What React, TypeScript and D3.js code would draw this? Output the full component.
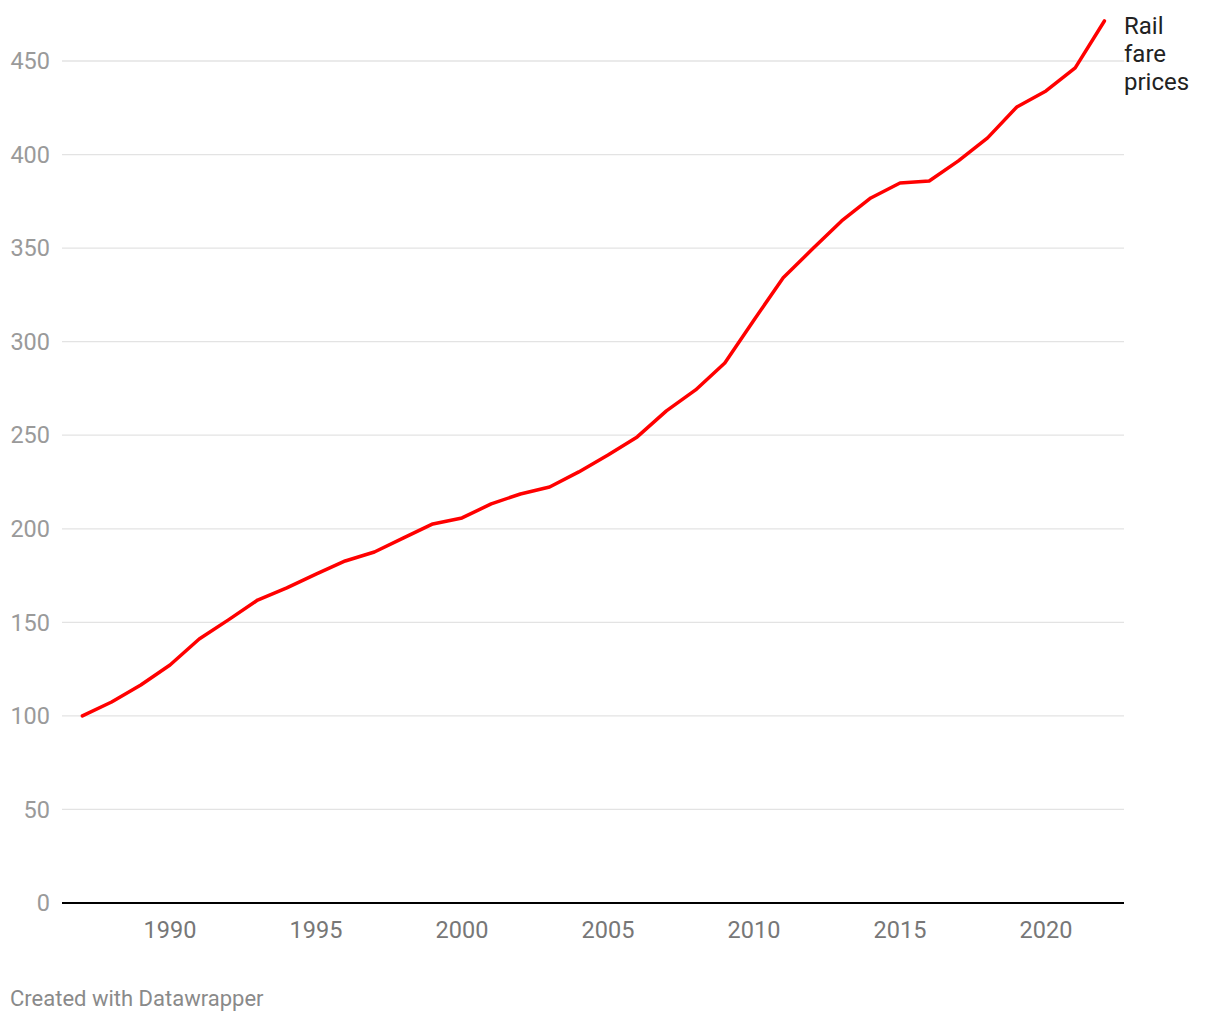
import React from "react";
import * as d3 from "d3";

const years = [1987,1988,1989,1990,1991,1992,1993,1994,1995,1996,1997,1998,1999,2000,2001,2002,2003,2004,2005,2006,2007,2008,2009,2010,2011,2012,2013,2014,2015,2016,2017,2018,2019,2020,2021,2022];
const railFares = [100,107.4,116.5,127.2,141.1,151.3,161.9,168.4,175.8,182.8,187.6,195.1,202.6,205.8,213.3,218.6,222.3,230.4,239.4,249.1,263.0,274.2,288.6,311.6,334.1,349.5,364.5,376.8,384.8,385.9,396.6,408.9,425.4,434.0,446.3,471.4];
const yTicks = [0,50,100,150,200,250,300,350,400,450];
const xTicks = [1990,1995,2000,2005,2010,2015,2020];
const seriesLabel = ["Rail", "fare", "prices"];
const credit = "Created with Datawrapper";

const W = 1220, H = 1020;
const left = 62, right = 1124;
const font = "Roboto, 'Noto Sans', sans-serif";

export default function App() {
  const x = d3.scaleLinear().domain([1990, 2020]).range([170, 1046]);
  const y = d3.scaleLinear().domain([0, 450]).range([903, 61]);
  const line = d3.line<number>().x((_, i) => x(years[i])).y(d => y(d));
  const last = railFares.length - 1;
  return (
    <svg width={W} height={H} style={{ position: "absolute", left: 0, top: 0, background: "#fff" }} fontFamily={font}>
      {yTicks.map(t => (
        <g key={t}>
          {t !== 0 && <line x1={left} x2={right} y1={y(t)} y2={y(t)} stroke="#e3e3e3" strokeWidth={1.3} />}
          <text x={50} y={y(t)} dy="0.35em" textAnchor="end" fontSize={23.5} fill="#9a9a9a">{t}</text>
        </g>
      ))}
      <line x1={left} x2={right} y1={y(0)} y2={y(0)} stroke="#000" strokeWidth={2} />
      {xTicks.map(t => (
        <text key={t} x={x(t)} y={938} textAnchor="middle" fontSize={23.5} fill="#777">{t}</text>
      ))}
      <path d={line(railFares) || ""} fill="none" stroke="#ff0000" strokeWidth={3.5} strokeLinejoin="round" strokeLinecap="round" />
      {seriesLabel.map((s, i) => (
        <text key={s} x={1124} y={y(railFares[last]) + 13 + i * 28} fontSize={24} fill="#222">{s}</text>
      ))}
      <text x={10} y={1006} fontSize={22} fill="#8a8a8a">{credit}</text>
    </svg>
  );
}
